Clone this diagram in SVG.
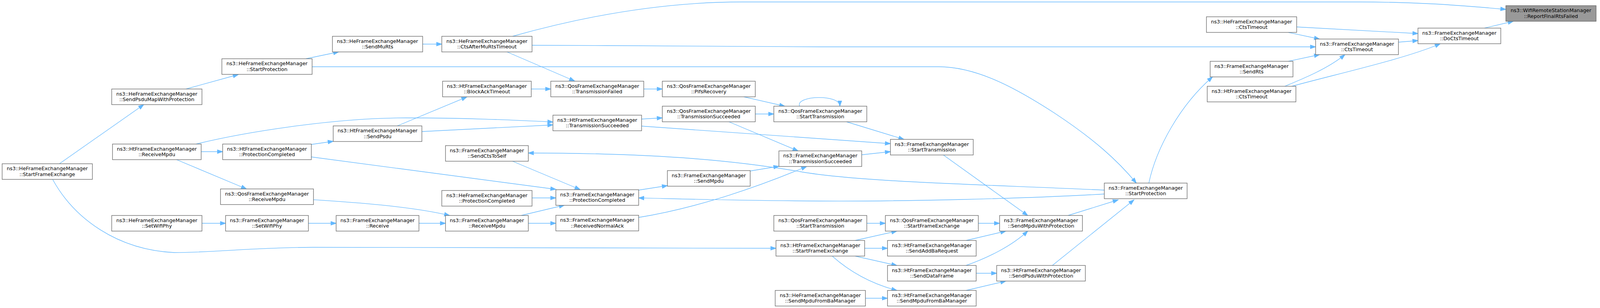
<svg xmlns="http://www.w3.org/2000/svg" width="4128" height="789" viewBox="0 0 4128 789">
<style>
.n rect{fill:#ffffff;stroke:#666666;stroke-width:1.33}
.root rect{fill:#999999}
.n text{font-family:"DejaVu Sans","Liberation Sans",sans-serif;font-size:12.8px;text-anchor:middle;fill:#000000}
.e path{fill:none;stroke:#63b8ff;stroke-width:1.33;marker-end:url(#ah)}
</style>
<defs>
<marker id="ah" markerUnits="userSpaceOnUse" markerWidth="16" markerHeight="12" viewBox="-1 -6 16 12" refX="13.33" refY="0" orient="auto">
<path d="M0,-4.67 L13.33,0 L0,4.67 Z" fill="#63b8ff" stroke="#63b8ff" stroke-width="1.33"/>
</marker>
</defs>
<rect x="0" y="0" width="4128" height="789" fill="#ffffff"/>
<g id="edges" class="e">
<path d="M152,419.5 L368,268"/>
<path d="M476,228 L610,191"/>
<path d="M783,150.5 L867,133"/>
<path d="M1082,113 L1131,113"/>
<path d="M799,171 L2403,171 C2500,171 2600,225 2700,290 C2800,356 2860,410 2909,469"/>
<path d="M1312,93 C1500,40 1700,5 1900,5 L3480,5 C3620,5 3720,12 3855,24"/>
<path d="M1362,116 C1600,116 1800,120 2100,120 L3368,120"/>
<path d="M1298,133 L1471,207.5"/>
<path d="M1360,228 L1410,228"/>
<path d="M1017,322.5 L1195,248.5"/>
<path d="M1648,228 L1695.5,228"/>
<path d="M1904,248 L2009,272"/>
<path d="M2047,272 C2035,245 2150,240 2150,272"/>
<path d="M1933.5,292 L1981,292"/>
<path d="M1642,305 L1695.5,302"/>
<path d="M1866,312 L2043,386.5"/>
<path d="M1642,323 C1900,340 2100,357 2279.5,368"/>
<path d="M502,369 C620,340 850,302 1039,302 C1200,302 1320,308 1415.5,312.5"/>
<path d="M1080,337 L1415.5,320"/>
<path d="M515,388.5 L570,388.5"/>
<path d="M452,409 L631,484"/>
<path d="M797,370 L853,362"/>
<path d="M797,402 L1423,485"/>
<path d="M803,511.7 C900,518 1050,528 1151,552"/>
<path d="M517,572 L577.5,572"/>
<path d="M789.5,572 L860.5,572"/>
<path d="M1072.5,572 L1140.5,572"/>
<path d="M1334,552 L1445,525.5"/>
<path d="M1352.5,572 L1423,572"/>
<path d="M1362,507 L1423,507"/>
<path d="M1312,413 L1485,485.5"/>
<path d="M1635,487 L1708.5,475.5"/>
<path d="M1920.5,438 L1994,426"/>
<path d="M1635,557 C1790,532 1950,475 2065,426.5"/>
<path d="M2827,497 C2600,510 2300,516 2100,515 C1900,514 1750,510 1635,507"/>
<path d="M2827,487 C2500,472 2200,466 2050,440 C1900,414 1700,392 1352.5,392"/>
<path d="M2167,312 L2314,357"/>
<path d="M2206,396.5 L2279.5,388.5"/>
<path d="M2415,397 L2631,552"/>
<path d="M2219,572 L2266.5,572"/>
<path d="M2504.5,572 L2559,572"/>
<path d="M2189,616 L2296,592"/>
<path d="M2213.5,636 L2272,636"/>
<path d="M2189,656 L2296,680"/>
<path d="M2131,656.5 C2180,700 2235,728 2296,744"/>
<path d="M2215.5,764 L2272,764"/>
<path d="M2473,616 L2575,592"/>
<path d="M2473,680 C2530,660 2590,630 2631,592"/>
<path d="M2499,700 L2551.5,700"/>
<path d="M2473,744 L2575,720"/>
<path d="M2734,552 L2862.5,512"/>
<path d="M2694,680 L2903,512"/>
<path d="M2941,469 C2960,380 3020,270 3104,197"/>
<path d="M3298,83 L3378,100"/>
<path d="M3319.5,69 L3630,86"/>
<path d="M3298,157 L3378,140"/>
<path d="M3289,221 C3340,200 3400,175 3443,140"/>
<path d="M3307,221 C3420,190 3600,150 3687,112"/>
<path d="M3580,108 L3630,104"/>
<path d="M3800,72 L3874,54.5"/>
<path d="M135,460 C190,560 300,640 446,647 C550,647 650,634 800,633.5 L1986.5,636"/>
</g>
<g id="node_root" class="n root"><rect x="3855" y="14.5" width="231" height="40"/><text x="3970.5" y="31">ns3::WifiRemoteStationManager</text><text x="3970.5" y="45.5">::ReportFinalRtsFailed</text></g>
<g id="node_DoCtsTimeout" class="n"><rect x="3630" y="72" width="212" height="40"/><text x="3736" y="88.5">ns3::FrameExchangeManager</text><text x="3736" y="103">::DoCtsTimeout</text></g>
<g id="node_FemCtsTimeout" class="n"><rect x="3368" y="100" width="212" height="40"/><text x="3474" y="116.5">ns3::FrameExchangeManager</text><text x="3474" y="131">::CtsTimeout</text></g>
<g id="node_HeCtsTimeout" class="n"><rect x="3088.5" y="43" width="231" height="40"/><text x="3204" y="59.5">ns3::HeFrameExchangeManager</text><text x="3204" y="74">::CtsTimeout</text></g>
<g id="node_SendRts" class="n"><rect x="3098" y="157" width="212" height="40"/><text x="3204" y="173.5">ns3::FrameExchangeManager</text><text x="3204" y="188">::SendRts</text></g>
<g id="node_HtCtsTimeout" class="n"><rect x="3090.5" y="221" width="227" height="40"/><text x="3204" y="237.5">ns3::HtFrameExchangeManager</text><text x="3204" y="252">::CtsTimeout</text></g>
<g id="node_FemStartProtection" class="n"><rect x="2827" y="469" width="212" height="40"/><text x="2933" y="485.5">ns3::FrameExchangeManager</text><text x="2933" y="500">::StartProtection</text></g>
<g id="node_SendMpduWithProtection" class="n"><rect x="2559" y="552" width="212" height="40"/><text x="2665" y="568.5">ns3::FrameExchangeManager</text><text x="2665" y="583">::SendMpduWithProtection</text></g>
<g id="node_SendPsduWithProtection" class="n"><rect x="2551.5" y="680" width="227" height="40"/><text x="2665" y="696.5">ns3::HtFrameExchangeManager</text><text x="2665" y="711">::SendPsduWithProtection</text></g>
<g id="node_FemStartTransmission" class="n"><rect x="2279.5" y="357" width="212" height="40"/><text x="2385.5" y="373.5">ns3::FrameExchangeManager</text><text x="2385.5" y="388">::StartTransmission</text></g>
<g id="node_QosStartFrameExchange" class="n"><rect x="2266.5" y="552" width="238" height="40"/><text x="2385.5" y="568.5">ns3::QosFrameExchangeManager</text><text x="2385.5" y="583">::StartFrameExchange</text></g>
<g id="node_SendAddBaRequest" class="n"><rect x="2272" y="616" width="227" height="40"/><text x="2385.5" y="632.5">ns3::HtFrameExchangeManager</text><text x="2385.5" y="647">::SendAddBaRequest</text></g>
<g id="node_SendDataFrame" class="n"><rect x="2272" y="680" width="227" height="40"/><text x="2385.5" y="696.5">ns3::HtFrameExchangeManager</text><text x="2385.5" y="711">::SendDataFrame</text></g>
<g id="node_HtSendMpduFromBaManager" class="n"><rect x="2272" y="744" width="227" height="40"/><text x="2385.5" y="760.5">ns3::HtFrameExchangeManager</text><text x="2385.5" y="775">::SendMpduFromBaManager</text></g>
<g id="node_QosStartTransmission1" class="n"><rect x="1981" y="272" width="238" height="40"/><text x="2100" y="288.5">ns3::QosFrameExchangeManager</text><text x="2100" y="303">::StartTransmission</text></g>
<g id="node_FemTransmissionSucceeded" class="n"><rect x="1994" y="386.5" width="212" height="40"/><text x="2100" y="403">ns3::FrameExchangeManager</text><text x="2100" y="417.5">::TransmissionSucceeded</text></g>
<g id="node_QosStartTransmission2" class="n"><rect x="1981" y="552" width="238" height="40"/><text x="2100" y="568.5">ns3::QosFrameExchangeManager</text><text x="2100" y="583">::StartTransmission</text></g>
<g id="node_HtStartFrameExchange" class="n"><rect x="1986.5" y="616" width="227" height="40"/><text x="2100" y="632.5">ns3::HtFrameExchangeManager</text><text x="2100" y="647">::StartFrameExchange</text></g>
<g id="node_HeSendMpduFromBaManager" class="n"><rect x="1984.5" y="744" width="231" height="40"/><text x="2100" y="760.5">ns3::HeFrameExchangeManager</text><text x="2100" y="775">::SendMpduFromBaManager</text></g>
<g id="node_PifsRecovery" class="n"><rect x="1695.5" y="208" width="238" height="40"/><text x="1814.5" y="224.5">ns3::QosFrameExchangeManager</text><text x="1814.5" y="239">::PifsRecovery</text></g>
<g id="node_QosTransmissionSucceeded" class="n"><rect x="1695.5" y="272" width="238" height="40"/><text x="1814.5" y="288.5">ns3::QosFrameExchangeManager</text><text x="1814.5" y="303">::TransmissionSucceeded</text></g>
<g id="node_SendMpdu" class="n"><rect x="1708.5" y="437" width="212" height="40"/><text x="1814.5" y="453.5">ns3::FrameExchangeManager</text><text x="1814.5" y="468">::SendMpdu</text></g>
<g id="node_QosTransmissionFailed" class="n"><rect x="1410" y="208" width="238" height="40"/><text x="1529" y="224.5">ns3::QosFrameExchangeManager</text><text x="1529" y="239">::TransmissionFailed</text></g>
<g id="node_HtTransmissionSucceeded" class="n"><rect x="1415.5" y="295" width="227" height="40"/><text x="1529" y="311.5">ns3::HtFrameExchangeManager</text><text x="1529" y="326">::TransmissionSucceeded</text></g>
<g id="node_FemProtectionCompleted" class="n"><rect x="1423" y="486" width="212" height="40"/><text x="1529" y="502.5">ns3::FrameExchangeManager</text><text x="1529" y="517">::ProtectionCompleted</text></g>
<g id="node_ReceivedNormalAck" class="n"><rect x="1423" y="551.5" width="212" height="40"/><text x="1529" y="568">ns3::FrameExchangeManager</text><text x="1529" y="582.5">::ReceivedNormalAck</text></g>
<g id="node_CtsAfterMuRtsTimeout" class="n"><rect x="1131" y="93" width="231" height="40"/><text x="1246.5" y="109.5">ns3::HeFrameExchangeManager</text><text x="1246.5" y="124">::CtsAfterMuRtsTimeout</text></g>
<g id="node_BlockAckTimeout" class="n"><rect x="1133" y="208" width="227" height="40"/><text x="1246.5" y="224.5">ns3::HtFrameExchangeManager</text><text x="1246.5" y="239">::BlockAckTimeout</text></g>
<g id="node_SendCtsToSelf" class="n"><rect x="1140.5" y="373" width="212" height="40"/><text x="1246.5" y="389.5">ns3::FrameExchangeManager</text><text x="1246.5" y="404">::SendCtsToSelf</text></g>
<g id="node_HeProtectionCompleted" class="n"><rect x="1131" y="488" width="231" height="40"/><text x="1246.5" y="504.5">ns3::HeFrameExchangeManager</text><text x="1246.5" y="519">::ProtectionCompleted</text></g>
<g id="node_FemReceiveMpdu" class="n"><rect x="1140.5" y="552" width="212" height="40"/><text x="1246.5" y="568.5">ns3::FrameExchangeManager</text><text x="1246.5" y="583">::ReceiveMpdu</text></g>
<g id="node_SendMuRts" class="n"><rect x="851" y="93" width="231" height="40"/><text x="966.5" y="109.5">ns3::HeFrameExchangeManager</text><text x="966.5" y="124">::SendMuRts</text></g>
<g id="node_SendPsdu" class="n"><rect x="853" y="322.5" width="227" height="40"/><text x="966.5" y="339">ns3::HtFrameExchangeManager</text><text x="966.5" y="353.5">::SendPsdu</text></g>
<g id="node_Receive" class="n"><rect x="860.5" y="552" width="212" height="40"/><text x="966.5" y="568.5">ns3::FrameExchangeManager</text><text x="966.5" y="583">::Receive</text></g>
<g id="node_HeStartProtection" class="n"><rect x="568" y="150.5" width="231" height="40"/><text x="683.5" y="167">ns3::HeFrameExchangeManager</text><text x="683.5" y="181.5">::StartProtection</text></g>
<g id="node_HtProtectionCompleted" class="n"><rect x="570" y="369" width="227" height="40"/><text x="683.5" y="385.5">ns3::HtFrameExchangeManager</text><text x="683.5" y="400">::ProtectionCompleted</text></g>
<g id="node_QosReceiveMpdu" class="n"><rect x="564.5" y="484" width="238" height="40"/><text x="683.5" y="500.5">ns3::QosFrameExchangeManager</text><text x="683.5" y="515">::ReceiveMpdu</text></g>
<g id="node_FemSetWifiPhy" class="n"><rect x="577.5" y="552" width="212" height="40"/><text x="683.5" y="568.5">ns3::FrameExchangeManager</text><text x="683.5" y="583">::SetWifiPhy</text></g>
<g id="node_SendPsduMapWithProtection" class="n"><rect x="286" y="228" width="231" height="40"/><text x="401.5" y="244.5">ns3::HeFrameExchangeManager</text><text x="401.5" y="259">::SendPsduMapWithProtection</text></g>
<g id="node_HtReceiveMpdu" class="n"><rect x="288" y="369" width="227" height="40"/><text x="401.5" y="385.5">ns3::HtFrameExchangeManager</text><text x="401.5" y="400">::ReceiveMpdu</text></g>
<g id="node_HeSetWifiPhy" class="n"><rect x="286" y="552" width="231" height="40"/><text x="401.5" y="568.5">ns3::HeFrameExchangeManager</text><text x="401.5" y="583">::SetWifiPhy</text></g>
<g id="node_HeStartFrameExchange" class="n"><rect x="5.5" y="419.5" width="231" height="40"/><text x="121" y="436">ns3::HeFrameExchangeManager</text><text x="121" y="450.5">::StartFrameExchange</text></g>
</svg>
